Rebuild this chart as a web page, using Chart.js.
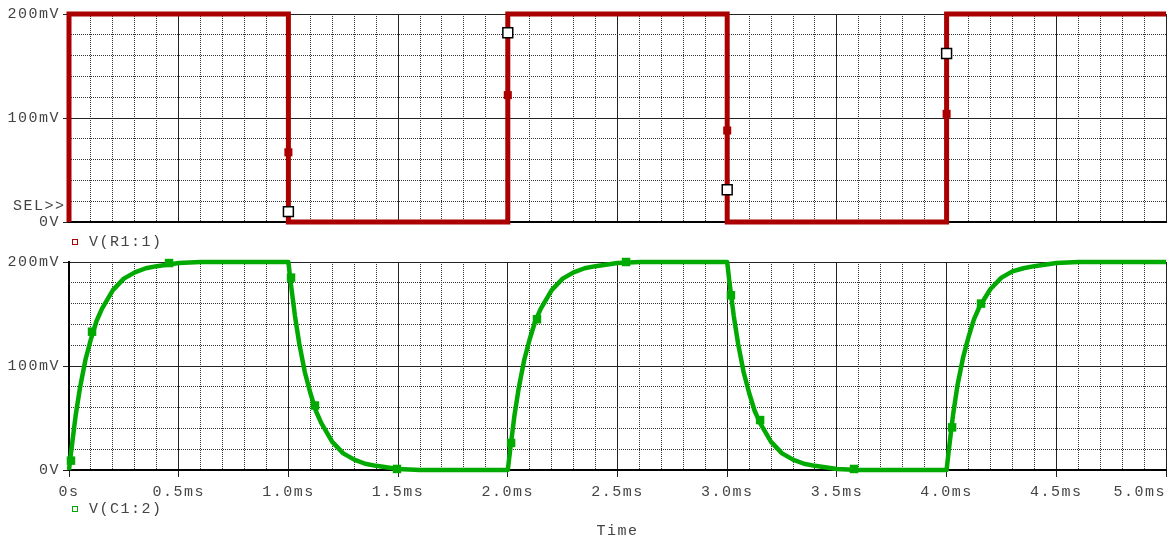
<!DOCTYPE html>
<html>
<head>
<meta charset="utf-8">
<script src="https://cdn.jsdelivr.net/npm/chart.js@4.4.1/dist/chart.umd.min.js"></script>
<style>
	body { margin: 0; width: 1174px; height: 538px; overflow: hidden; background: #fff; position: relative; }
	canvas { position: absolute; left: 0; }
	#top { top: 0; }
	#bottom { top: 236px; }
	.lbl { position: absolute; z-index: 2; font-family: 'Liberation Mono', monospace; font-size: 15px; line-height: 16px; letter-spacing: 1.5px; color: #444; white-space: pre; }
	.key { display: inline-block; width: 4px; height: 4px; border: 1.5px solid; margin-right: 11px; vertical-align: 1px; }
</style>
</head>
<body>
<canvas id="top" width="1174" height="236"></canvas>
<canvas id="bottom" width="1174" height="304"></canvas>
<div class="lbl" style="left:13px; top:199px">SEL&gt;&gt;</div>
<div class="lbl" style="left:72px; top:235px"><span class="key" style="border-color:#aa0000"></span>V(R1:1)</div>
<div class="lbl" style="left:72px; top:502px"><span class="key" style="border-color:#00aa00"></span>V(C1:2)</div>
<script>
// time in ms, voltage in mV
const timeTicks = [0, 0.5, 1, 1.5, 2, 2.5, 3, 3.5, 4, 4.5, 5]
const timeLabels = ['0s', '0.5ms', '1.0ms', '1.5ms', '2.0ms', '2.5ms', '3.0ms', '3.5ms', '4.0ms', '4.5ms', '5.0ms']
const voltTicks = [0, 100, 200]
const voltLabels = ['0V', '100mV', '200mV']

// V(R1:1) - square wave
const r1Times = [0, 0, 1, 1, 2, 2, 3, 3, 4, 4, 5]
const r1Values = [0, 200, 200, 0, 0, 200, 200, 0, 0, 200, 200]
const r1MarkTimes = [1, 2, 3, 4]
const r1MarkValues = [67, 122, 88, 104]
const cursorTimes = [1, 2, 3, 4]
const cursorValues = [10, 182, 31, 162]

// V(C1:2) - capacitor voltage
const c1Times = [
	0, 0.01, 0.03, 0.05, 0.075, 0.1, 0.125, 0.15, 0.2, 0.25, 0.3, 0.35, 0.4, 0.5, 0.6,
	1, 1.01, 1.03, 1.05, 1.075, 1.1, 1.125, 1.15, 1.2, 1.25, 1.3, 1.35, 1.4, 1.5, 1.6,
	2, 2.01, 2.03, 2.05, 2.075, 2.1, 2.125, 2.15, 2.2, 2.25, 2.3, 2.35, 2.4, 2.5, 2.6,
	3, 3.01, 3.03, 3.05, 3.075, 3.1, 3.125, 3.15, 3.2, 3.25, 3.3, 3.35, 3.4, 3.5, 3.6,
	4, 4.01, 4.03, 4.05, 4.075, 4.1, 4.125, 4.15, 4.2, 4.25, 4.3, 4.35, 4.4, 4.5, 4.6,
	5,
]
const c1Values = [
	0, 18, 52, 79, 106, 126, 143, 155, 173, 184, 190, 194, 196, 199, 200,
	200, 181, 148, 121, 94, 74, 57, 45, 27, 16, 10, 6, 4, 1, 0,
	0, 18, 52, 79, 106, 126, 143, 155, 173, 184, 190, 194, 196, 199, 200,
	200, 181, 148, 121, 94, 74, 57, 45, 27, 16, 10, 6, 4, 1, 0,
	0, 19, 54, 82, 108, 128, 145, 157, 174, 185, 191, 194, 196, 199, 200,
	200,
]
const c1MarkTimes = [0.009, 0.105, 0.456, 1.012, 1.121, 1.495, 2.015, 2.133, 2.539, 3.017, 3.15, 3.578, 4.025, 4.157]
const c1MarkValues = [9, 133, 199, 185, 62, 1, 26, 145, 200, 168, 48, 1, 41, 160]

const RED = '#aa0000'
const GREEN = '#00aa00'
const TEXT = '#444'
const font = { family: 'Liberation Mono', size: 15 }

const pts = (xs, ys) => xs.map((x, i) => ({ x, y: ys[i] }))
const onStep = (v, step) => Math.abs(v / step - Math.round(v / step)) < 1e-6

// courier-like wide letter spacing on the canvas text
const spacing = {
	id: 'spacing',
	beforeUpdate: chart => { chart.ctx.letterSpacing = '1.5px' },
	beforeDraw: chart => { chart.ctx.letterSpacing = '1.5px' },
}

function panelScales(showTime) {
	return {
		x: {
			type: 'linear',
			min: 0,
			max: 5,
			position: 'bottom',
			afterBuildTicks: s => { s.ticks = timeTicks.map(value => ({ value })) },
			afterFit: s => {
				s.height = showTime ? 70 : 0
				s.paddingLeft = 0
				s.paddingRight = 0
			},
			grid: { color: '#222', lineWidth: 1, drawTicks: showTime, tickLength: 7, tickColor: '#222' },
			border: { color: '#000', width: 2 },
			ticks: {
				display: showTime,
				autoSkip: false,
				maxRotation: 0,
				padding: 6,
				color: TEXT,
				font,
				// last label padded so it ends at the right edge
				callback: (v, i) => i === timeLabels.length - 1
					? timeLabels[i] + ' '.repeat(timeLabels[i].length)
					: timeLabels[i],
			},
			title: { display: showTime, text: 'Time', color: TEXT, font, padding: 0 },
		},
		xMinor: {
			type: 'linear',
			min: 0,
			max: 5,
			position: 'top',
			afterFit: s => { s.height = 0 },
			ticks: { display: false, stepSize: 0.1 },
			grid: {
				drawTicks: false,
				lineWidth: 1,
				color: c => onStep(c.tick.value, 0.5) ? 'transparent' : '#333',
			},
			border: { display: false, dash: [1, 1] },
		},
		y: {
			type: 'linear',
			min: 0,
			max: 200,
			position: 'left',
			afterBuildTicks: s => { s.ticks = voltTicks.map(value => ({ value })) },
			afterFit: s => { s.width = 69 },
			grid: { color: '#222', lineWidth: 1, tickLength: 6, tickColor: '#222' },
			border: { color: '#000', width: 2 },
			ticks: { padding: 3, color: TEXT, font, callback: (v, i) => voltLabels[i] },
		},
		yMinor: {
			type: 'linear',
			min: 0,
			max: 200,
			position: 'right',
			afterFit: s => { s.width = 0 },
			ticks: { display: false, stepSize: 20 },
			grid: {
				drawTicks: false,
				lineWidth: 1,
				color: c => onStep(c.tick.value, 100) ? 'transparent' : '#333',
			},
			border: { display: false, dash: [1, 1] },
		},
	}
}

function makePanel(id, datasets, showTime, padding) {
	return new Chart(document.getElementById(id), {
		type: 'scatter',
		data: { datasets },
		plugins: [spacing],
		options: {
			responsive: false,
			animation: false,
			events: [],
			layout: { autoPadding: false, padding },
			plugins: { legend: { display: false }, tooltip: { enabled: false } },
			scales: panelScales(showTime),
		},
	})
}

makePanel('top', [
	{
		data: pts(cursorTimes, cursorValues),
		pointStyle: 'rect', pointRadius: 7, backgroundColor: '#fff', borderColor: '#000', pointBorderWidth: 1.5,
		clip: false, order: 0,
	},
	{
		data: pts(r1MarkTimes, r1MarkValues),
		pointStyle: 'rect', pointRadius: 5.7, backgroundColor: RED, borderColor: RED, pointBorderWidth: 0,
		clip: false, order: 1,
	},
	{
		data: pts(r1Times, r1Values),
		showLine: true, borderColor: RED, borderWidth: 5, pointRadius: 0, borderJoinStyle: 'miter',
		clip: false, order: 2,
	},
], false, { left: 0, right: 8, top: 14, bottom: 14 })

makePanel('bottom', [
	{
		data: pts(c1MarkTimes, c1MarkValues),
		pointStyle: 'rect', pointRadius: 6, backgroundColor: GREEN, borderColor: GREEN, pointBorderWidth: 0,
		clip: false, order: 0,
	},
	{
		data: pts(c1Times, c1Values),
		showLine: true, borderColor: GREEN, borderWidth: 4.5, pointRadius: 0, borderJoinStyle: 'round',
		clip: false, order: 1,
	},
], true, { left: 0, right: 8, top: 26, bottom: 0 })
</script>
</body>
</html>
